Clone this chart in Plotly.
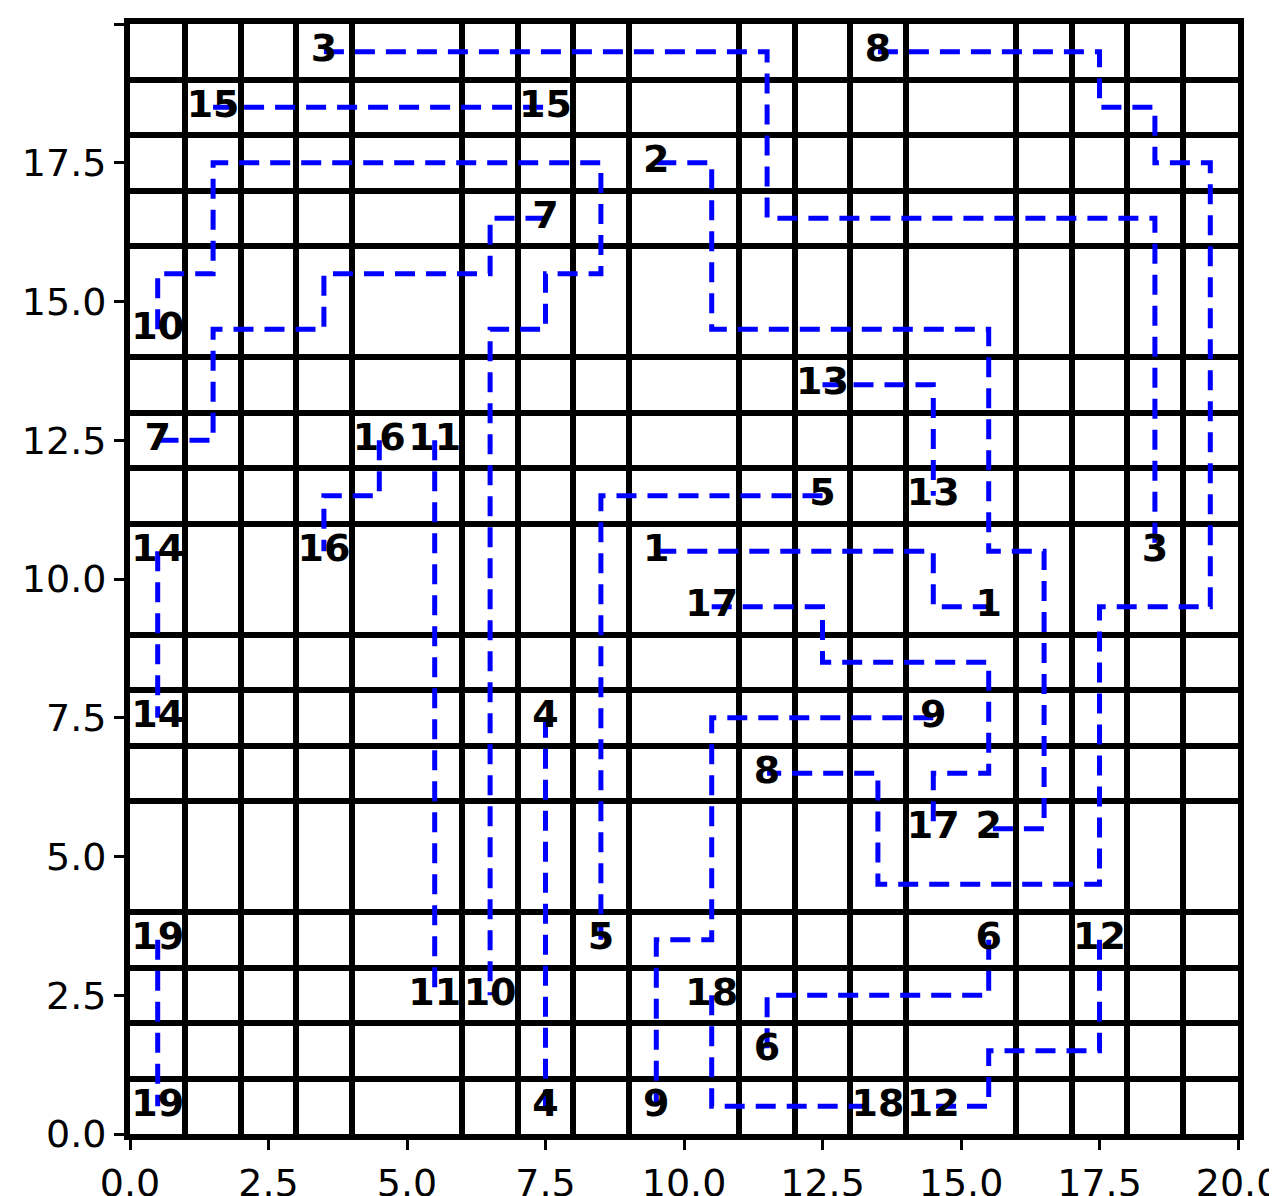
import plotly.graph_objects as go

# route id and the waypoints (cell centres) each route passes through
route_ids = [3, 8, 15, 2, 7, 10, 13, 5, 1, 17, 9, 16, 11, 14, 4, 19, 6, 18, 12]
route_x = [
    [3.5, 11.5, 11.5, 18.5, 18.5],
    [13.5, 17.5, 17.5, 18.5, 18.5, 19.5, 19.5, 17.5, 17.5, 13.5, 13.5, 11.5],
    [1.5, 7.5],
    [9.5, 10.5, 10.5, 15.5, 15.5, 16.5, 16.5, 15.5],
    [7.5, 6.5, 6.5, 3.5, 3.5, 1.5, 1.5, 0.5],
    [0.5, 0.5, 1.5, 1.5, 8.5, 8.5, 7.5, 7.5, 6.5, 6.5],
    [12.5, 14.5, 14.5],
    [12.5, 8.5, 8.5],
    [9.5, 14.5, 14.5, 15.5],
    [10.5, 12.5, 12.5, 15.5, 15.5, 14.5, 14.5],
    [14.5, 10.5, 10.5, 9.5, 9.5],
    [4.5, 4.5, 3.5, 3.5],
    [5.5, 5.5],
    [0.5, 0.5],
    [7.5, 7.5],
    [0.5, 0.5],
    [15.5, 15.5, 11.5, 11.5],
    [10.5, 10.5, 13.5],
    [17.5, 17.5, 15.5, 15.5, 14.5],
]
route_y = [
    [19.5, 19.5, 16.5, 16.5, 10.5],
    [19.5, 19.5, 18.5, 18.5, 17.5, 17.5, 9.5, 9.5, 4.5, 4.5, 6.5, 6.5],
    [18.5, 18.5],
    [17.5, 17.5, 14.5, 14.5, 10.5, 10.5, 5.5, 5.5],
    [16.5, 16.5, 15.5, 15.5, 14.5, 14.5, 12.5, 12.5],
    [14.5, 15.5, 15.5, 17.5, 17.5, 15.5, 15.5, 14.5, 14.5, 2.5],
    [13.5, 13.5, 11.5],
    [11.5, 11.5, 3.5],
    [10.5, 10.5, 9.5, 9.5],
    [9.5, 9.5, 8.5, 8.5, 6.5, 6.5, 5.5],
    [7.5, 7.5, 3.5, 3.5, 0.5],
    [12.5, 11.5, 11.5, 10.5],
    [12.5, 2.5],
    [10.5, 7.5],
    [7.5, 0.5],
    [3.5, 0.5],
    [3.5, 2.5, 2.5, 1.5],
    [2.5, 0.5, 0.5],
    [3.5, 1.5, 1.5, 0.5, 0.5],
]

fig = go.Figure()

for rid, xs, ys in zip(route_ids, route_x, route_y):
    fig.add_trace(go.Scatter(
        x=xs, y=ys, mode="lines",
        line=dict(color="blue", width=5, dash="20px,11px"),
        hoverinfo="skip", showlegend=False,
    ))

# endpoint labels
lx, ly, lt = [], [], []
for rid, xs, ys in zip(route_ids, route_x, route_y):
    lx += [xs[0], xs[-1]]
    ly += [ys[0], ys[-1]]
    lt += [str(rid), str(rid)]
fig.add_trace(go.Scatter(
    x=lx, y=ly, text=lt, mode="text",
    textfont=dict(family="DejaVu Sans", size=38, color="black", weight="bold"),
    textposition="middle center", showlegend=False,
))

axis_style = dict(
    range=[0, 20], tick0=0, dtick=2.5, tickformat=".1f",
    showgrid=False, zeroline=False, automargin=False,
    ticks="outside", ticklen=10, tickwidth=3, tickcolor="black",
    tickfont=dict(family="DejaVu Sans", size=38, color="black"),
    minor=dict(dtick=1, tick0=0, showgrid=True, gridcolor="black", gridwidth=6, ticks=""),
    showline=True, linecolor="black", linewidth=6, mirror=True,
)

fig.update_layout(
    width=1277, height=1196,
    margin=dict(l=122, r=47, t=16, b=70),
    plot_bgcolor="white", paper_bgcolor="white",
    xaxis=axis_style, yaxis=axis_style,
)

fig.write_html("out.html")
